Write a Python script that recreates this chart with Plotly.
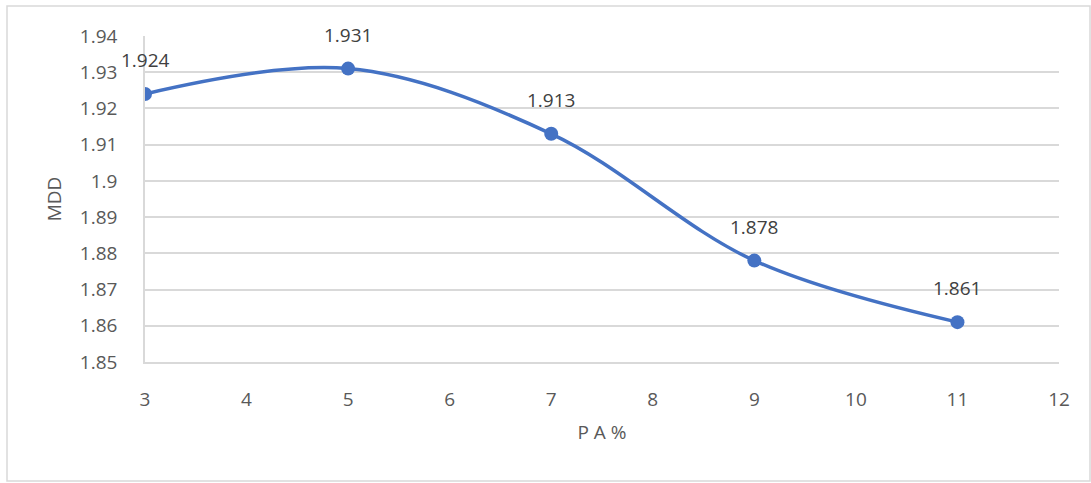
import plotly.graph_objects as go

pa_percent = [3, 5, 7, 9, 11]
mdd_values = [1.924, 1.931, 1.913, 1.878, 1.861]
y_ticks = [1.85, 1.86, 1.87, 1.88, 1.89, 1.90, 1.91, 1.92, 1.93, 1.94]
y_tick_labels = ["1.85", "1.86", "1.87", "1.88", "1.89", "1.9", "1.91", "1.92", "1.93", "1.94"]
x_ticks = [3, 4, 5, 6, 7, 8, 9, 10, 11, 12]

W, H = 1091, 483
ML, MR, MT, MB = 145, 32, 36, 121
FONT = "Open Sans"
BLUE = "#4472C4"

fig = go.Figure()
fig.add_trace(go.Scatter(
    x=pa_percent, y=mdd_values, mode="lines+markers",
    line=dict(color=BLUE, width=3.5, shape="spline", smoothing=1.0),
    marker=dict(color=BLUE, size=14),
    showlegend=False, hoverinfo="skip",
))

for xv, yv in zip(pa_percent, mdd_values):
    fig.add_annotation(x=xv, y=yv, text=f"{yv:.3f}", showarrow=False,
                       yanchor="bottom", yshift=19,
                       font=dict(family=FONT, size=19, color="#404040"))

pw = W - ML - MR
ph = H - MT - MB
def px_x(p):
    return (p - ML) / pw
def px_y(p):
    return (H - MB - p) / ph

fig.add_shape(type="rect", xref="paper", yref="paper",
              x0=px_x(7), x1=px_x(1090), y0=px_y(481), y1=px_y(6),
              line=dict(color="#d9d9d9", width=1.5), layer="below")

fig.update_layout(
    width=W, height=H,
    margin=dict(l=ML, r=MR, t=MT, b=MB, pad=0),
    paper_bgcolor="white", plot_bgcolor="white",
    font=dict(family=FONT, size=19, color="#595959"),
    xaxis=dict(range=[3, 12], tickvals=x_ticks, showgrid=False,
               showline=True, linecolor="#d9d9d9", linewidth=1.5,
               zeroline=False, ticks="", ticklabelstandoff=19,
               title=dict(text="P A %", standoff=15,
                          font=dict(family=FONT, size=19, color="#595959"))),
    yaxis=dict(range=[1.85, 1.94], tickvals=y_ticks, ticktext=y_tick_labels,
               showgrid=True, gridcolor="#d9d9d9", gridwidth=1.5,
               showline=True, linecolor="#d9d9d9", linewidth=1.5,
               zeroline=False, ticks="", ticklabelstandoff=22,
               title=dict(text="MDD", standoff=13,
                          font=dict(family=FONT, size=19, color="#595959"))),
)

fig.write_html("out.html", post_script="document.body.style.margin='0';",
               config={"displayModeBar": False})
